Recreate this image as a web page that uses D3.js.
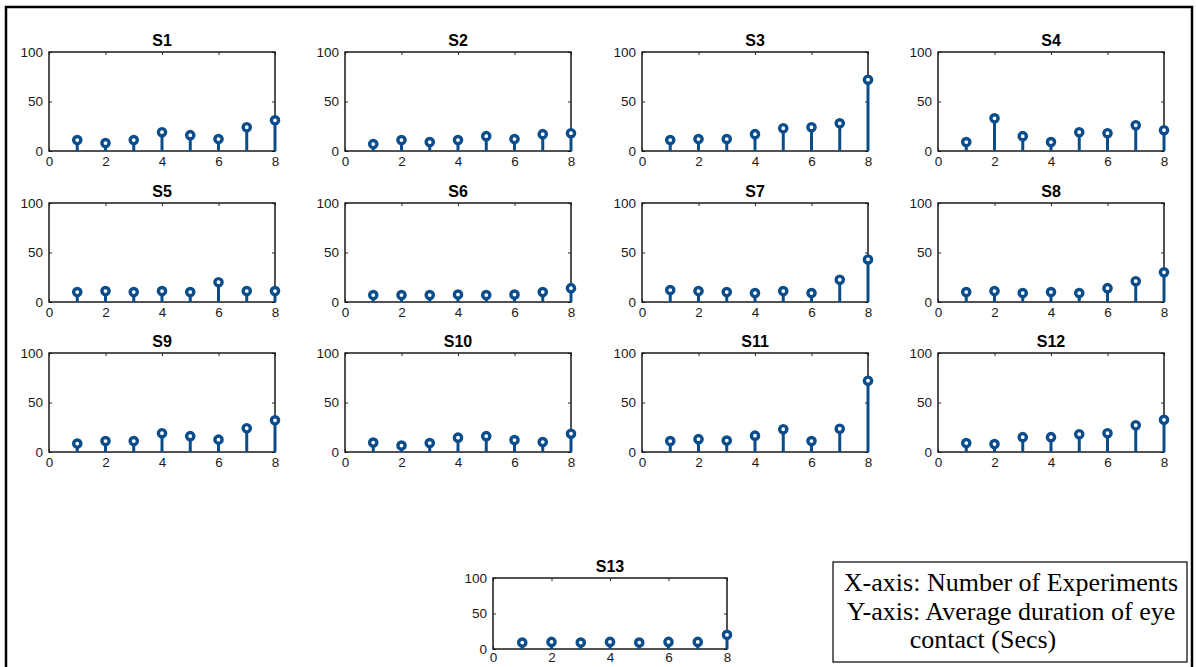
<!DOCTYPE html>
<html>
<head>
<meta charset="utf-8">
<script src="https://cdn.jsdelivr.net/npm/d3@7"></script>
<style>
  html, body { margin: 0; padding: 0; background: #fff; }
  svg { display: block; }
  .tick-label { font-family: "Liberation Sans", Arial, sans-serif; font-size: 13.5px; fill: #1a1a1a; }
  .panel-title { font-family: "Liberation Sans", Arial, sans-serif; font-size: 16px; font-weight: bold; fill: #000; }
  .note { font-family: "Liberation Serif", "Times New Roman", serif; font-size: 26px; fill: #000; }
</style>
</head>
<body>
<svg id="chart" width="1196" height="667"></svg>
<script>
// Experiments 1..8 for every subject
const experiments = [1, 2, 3, 4, 5, 6, 7, 8];
const xTicks = [0, 2, 4, 6, 8];
const yTicks = [0, 50, 100];

// Average duration of eye contact (secs) per experiment, one list per subject
const s1  = [11, 8, 11, 19, 16, 12, 24, 31];
const s2  = [7, 11, 9, 11, 15, 12, 17, 18];
const s3  = [11, 12, 12, 17, 23, 24, 28, 72];
const s4  = [9, 33, 15, 9, 19, 18, 26, 21];
const s5  = [10, 11, 10, 11, 10, 20, 11, 11];
const s6  = [7, 7, 7, 7.5, 7, 7.5, 10, 14];
const s7  = [12, 11, 10, 9, 11, 9, 22.5, 43];
const s8  = [10, 11, 9, 10, 9, 14, 21, 30];
const s9  = [8.5, 11, 11, 19, 16, 12.5, 24, 32];
const s10 = [9.5, 6.5, 9, 14.5, 16, 12, 10, 18.5];
const s11 = [11, 13, 11.5, 16.5, 23, 11, 23.5, 72];
const s12 = [9, 8, 15, 15, 18, 19, 27, 32.5];
const s13 = [9, 10, 9, 10, 9, 10, 10, 20];

const subjectNames = ["S1","S2","S3","S4","S5","S6","S7","S8","S9","S10","S11","S12","S13"];
const subjectValues = [s1, s2, s3, s4, s5, s6, s7, s8, s9, s10, s11, s12, s13];

const noteLines = [
  "X-axis: Number of Experiments",
  "Y-axis: Average duration of eye",
  "contact (Secs)"
];

const svg = d3.select("#chart");
const stemColor = "#0b4d8a";

// Panel frames: 4x3 grid plus one shorter centred panel on the last row
const colLeft = [49, 345, 642, 938];
const rowTop = [52, 203, 353];
const panelW = 226, panelH = 99;
const frames = subjectNames.map((n, i) => {
  if (i < 12) return { x: colLeft[i % 4], y: rowTop[Math.floor(i / 4)], w: panelW, h: panelH };
  return { x: 493, y: 578, w: 234, h: 71 };
});

// outer border (bottom edge runs past the page)
svg.append("rect")
  .attr("x", 6).attr("y", 7).attr("width", 1186).attr("height", 680)
  .attr("fill", "none").attr("stroke", "#000").attr("stroke-width", 2.5);

subjectNames.forEach((name, i) => {
  const f = frames[i];
  const vals = subjectValues[i];
  const x = d3.scaleLinear().domain([0, 8]).range([0, f.w]);
  const y = d3.scaleLinear().domain([0, 100]).range([f.h, 0]);
  const g = svg.append("g").attr("transform", `translate(${f.x},${f.y})`);

  // inward ticks on all four sides (box style)
  const tickLen = 3;
  const xb = g.append("g").attr("transform", `translate(0,${f.h})`)
    .call(d3.axisBottom(x).tickValues(xTicks).tickSizeInner(-tickLen).tickSizeOuter(0).tickPadding(i < 12 ? 5 : 3));
  const xt = g.append("g")
    .call(d3.axisTop(x).tickValues(xTicks).tickSizeInner(-tickLen).tickSizeOuter(0).tickFormat(""));
  const yl = g.append("g")
    .call(d3.axisLeft(y).tickValues(yTicks).tickSizeInner(-tickLen).tickSizeOuter(0).tickPadding(6));
  const yr = g.append("g").attr("transform", `translate(${f.w},0)`)
    .call(d3.axisRight(y).tickValues(yTicks).tickSizeInner(-tickLen).tickSizeOuter(0).tickFormat(""));
  [xb, xt, yl, yr].forEach(a => {
    a.select(".domain").remove();
    a.selectAll(".tick line").attr("stroke", "#262626").attr("stroke-width", 1);
    a.selectAll(".tick text").attr("class", "tick-label").attr("font-size", null).attr("font-family", null);
  });

  // box
  g.append("rect").attr("x", 0).attr("y", 0).attr("width", f.w).attr("height", f.h)
    .attr("fill", "none").attr("stroke", "#1a1a1a").attr("stroke-width", 1.5);

  // stems
  g.selectAll("line.stem").data(vals).enter().append("line")
    .attr("class", "stem")
    .attr("x1", (d, j) => x(experiments[j])).attr("x2", (d, j) => x(experiments[j]))
    .attr("y1", y(0)).attr("y2", d => y(d))
    .attr("stroke", stemColor).attr("stroke-width", 3);

  // open circle markers
  g.selectAll("circle.mk").data(vals).enter().append("circle")
    .attr("class", "mk")
    .attr("cx", (d, j) => x(experiments[j])).attr("cy", d => y(d))
    .attr("r", 3.6)
    .attr("fill", "#fff").attr("stroke", stemColor).attr("stroke-width", 3.4);

  // title
  g.append("text").attr("class", "panel-title")
    .attr("x", f.w / 2).attr("y", -6).attr("text-anchor", "middle").text(name);
});

// axis description box
const noteBox = svg.append("g").attr("transform", "translate(833,562)");
noteBox.append("rect").attr("x", 0).attr("y", 0).attr("width", 354).attr("height", 100)
  .attr("fill", "#fff").attr("stroke", "#000").attr("stroke-width", 1.2);
const noteX = [178, 178, 150];
noteLines.forEach((t, k) => {
  noteBox.append("text").attr("class", "note")
    .attr("x", noteX[k]).attr("y", 29 + k * 28.5)
    .attr("text-anchor", "middle").text(t);
});
</script>
</body>
</html>
